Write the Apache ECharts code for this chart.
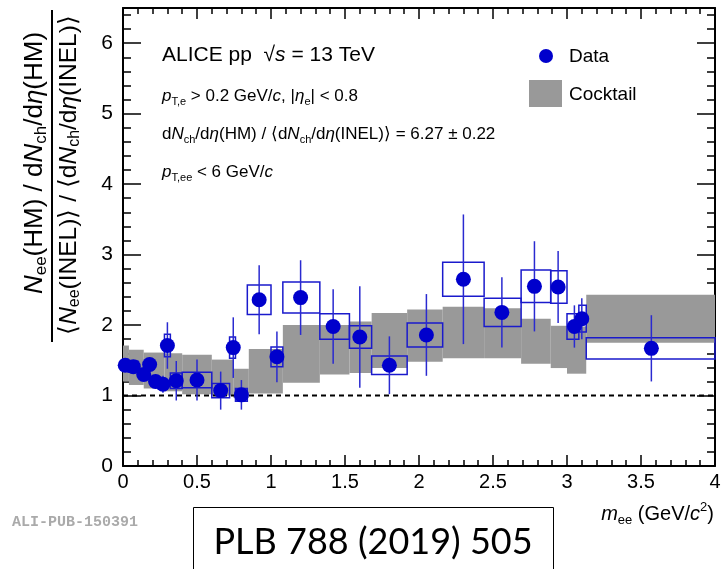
<!DOCTYPE html>
<html>
<head>
<meta charset="utf-8">
<script src="https://cdn.jsdelivr.net/npm/echarts@6/dist/echarts.min.js"></script>
<style>
html,body{margin:0;padding:0;background:#fff;}
#chart{width:726px;height:569px;}
</style>
</head>
<body>
<div id="chart"></div>
<script>
// ---- Data ----
const massCenter = [0.015,0.07,0.14,0.18,0.22,0.27,0.30,0.36,0.50,0.66,0.745,0.80,0.92,1.04,1.20,1.42,1.60,1.80,2.05,2.30,2.56,2.78,2.94,3.05,3.10,3.57];
const ratioValue = [1.43,1.41,1.30,1.44,1.20,1.16,1.71,1.21,1.22,1.07,1.68,1.01,2.36,1.55,2.39,1.98,1.83,1.43,1.86,2.65,2.18,2.55,2.54,1.98,2.09,1.67];
const statErr    = [0.05,0.06,0.08,0.10,0.10,0.12,0.33,0.28,0.29,0.27,0.43,0.21,0.49,0.36,0.53,0.53,0.72,0.41,0.58,0.92,0.50,0.64,0.51,0.30,0.29,0.47];
const systErr    = [0.08,0.08,0.08,0.08,0.08,0.07,0.16,0.11,0.11,0.10,0.15,0.09,0.21,0.14,0.22,0.18,0.16,0.13,0.17,0.24,0.20,0.23,0.23,0.18,0.19,0.15];
const binLow     = [0.00,0.035,0.12,0.16,0.20,0.24,0.28,0.32,0.40,0.60,0.72,0.76,0.84,1.00,1.08,1.33,1.53,1.68,1.92,2.16,2.44,2.69,2.89,3.00,3.08,3.13];
const binHigh    = [0.035,0.10,0.16,0.20,0.24,0.28,0.32,0.40,0.60,0.72,0.76,0.84,1.00,1.08,1.33,1.53,1.68,1.92,2.16,2.44,2.69,2.89,3.00,3.08,3.13,4.00];

// Cocktail band (step-wise)
const cocktailEdgeLow  = [0.00,0.04,0.14,0.28,0.40,0.60,0.745,0.85,1.08,1.33,1.53,1.68,1.92,2.16,2.44,2.69,2.89,3.00,3.13];
const cocktailEdgeHigh = [0.04,0.14,0.28,0.40,0.60,0.745,0.85,1.08,1.33,1.53,1.68,1.92,2.16,2.44,2.69,2.89,3.00,3.13,4.00];
const cocktailLower    = [1.20,1.15,1.10,1.06,1.02,1.00,0.97,1.03,1.18,1.30,1.32,1.39,1.48,1.53,1.53,1.45,1.39,1.31,1.75];
const cocktailUpper    = [1.71,1.65,1.61,1.60,1.58,1.51,1.38,1.66,2.00,2.00,2.05,2.17,2.22,2.26,2.24,2.09,1.99,1.98,2.43];

const xTicksMajor = 0.5, xTicksMinor = 0.1, xMin = 0, xMax = 4;
const yTicksMajor = 1, yTicksMinor = 0.2, yMin = 0, yMax = 6.5;
const refLineY = 1;

// ---- Build series data ----
const pts = massCenter.map((x,i)=>[x, ratioValue[i]]);
const errData = massCenter.map((x,i)=>[x, ratioValue[i]-statErr[i], ratioValue[i]+statErr[i]]);
const boxData = massCenter.map((x,i)=>[binLow[i], binHigh[i], ratioValue[i]-systErr[i], ratioValue[i]+systErr[i]]);
const bandData = cocktailLower.map((v,i)=>[cocktailEdgeLow[i], cocktailEdgeHigh[i], v, cocktailUpper[i]]);

const BLUE = '#0000cc';
const FONT = '"Liberation Sans", Arial, Helvetica, sans-serif';

const chart = echarts.init(document.getElementById('chart'), null, {renderer:'canvas'});

function axisX(pos, interval, len, showLabel, showLine){
  return {
    type:'value', position:pos, min:xMin, max:xMax, interval:interval,
    axisLine:{show:showLine, onZero:false, lineStyle:{color:'#000', width:2}},
    axisTick:{show:true, inside:true, length:len, lineStyle:{color:'#000', width:1.5}},
    axisLabel:{show:showLabel, color:'#000', fontSize:20, fontFamily:FONT, margin:6,
      formatter:v=>String(v)},
    splitLine:{show:false}
  };
}
function axisY(pos, interval, len, showLabel, showLine){
  return {
    type:'value', position:pos, min:yMin, max:yMax, interval:interval,
    axisLine:{show:showLine, onZero:false, lineStyle:{color:'#000', width:2}},
    axisTick:{show:true, inside:true, length:len, lineStyle:{color:'#000', width:1.5}},
    axisLabel:{show:showLabel, color:'#000', fontSize:21, fontFamily:FONT, margin:10, showMaxLabel:false,
      formatter:v=>String(v)},
    splitLine:{show:false}
  };
}

const option = {
  animation:false,
  backgroundColor:'#fff',
  grid:{left:123, top:8, right:11, bottom:103, containLabel:false},
  xAxis:[
    axisX('bottom', xTicksMajor, 11, true, true),
    axisX('bottom', xTicksMinor, 6, false, false),
    axisX('top', xTicksMajor, 11, false, true),
    axisX('top', xTicksMinor, 6, false, false)
  ],
  yAxis:[
    axisY('left', yTicksMajor, 18, true, true),
    axisY('left', yTicksMinor, 8, false, false),
    axisY('right', yTicksMajor, 18, false, true),
    axisY('right', yTicksMinor, 8, false, false)
  ],
  series:[
    { // cocktail band
      type:'custom', xAxisIndex:0, yAxisIndex:0, z:1,
      data:bandData,
      encode:{x:[0,1], y:[2,3]},
      renderItem:(params, api)=>{
        const p0 = api.coord([api.value(0), api.value(3)]);
        const p1 = api.coord([api.value(1), api.value(2)]);
        return {type:'rect', shape:{x:p0[0], y:p0[1], width:p1[0]-p0[0], height:p1[1]-p0[1]},
          style:{fill:'#999999'}};
      }
    },
    { // reference dashed line
      type:'line', xAxisIndex:0, yAxisIndex:0, z:2,
      data:[[xMin, refLineY],[xMax, refLineY]],
      symbol:'none', lineStyle:{color:'#000', width:2, type:[5,4]}
    },
    { // systematic boxes
      type:'custom', xAxisIndex:0, yAxisIndex:0, z:3,
      data:boxData,
      encode:{x:[0,1], y:[2,3]},
      renderItem:(params, api)=>{
        const p0 = api.coord([api.value(0), api.value(3)]);
        const p1 = api.coord([api.value(1), api.value(2)]);
        return {type:'rect', shape:{x:p0[0], y:p0[1], width:p1[0]-p0[0], height:p1[1]-p0[1]},
          style:{fill:'none', stroke:'#1a1acc', lineWidth:1.5}};
      }
    },
    { // statistical error bars
      type:'custom', xAxisIndex:0, yAxisIndex:0, z:4,
      data:errData,
      encode:{x:0, y:[1,2]},
      renderItem:(params, api)=>{
        const p0 = api.coord([api.value(0), api.value(1)]);
        const p1 = api.coord([api.value(0), api.value(2)]);
        return {type:'line', shape:{x1:p0[0], y1:p0[1], x2:p1[0], y2:p1[1]},
          style:{stroke:'#2a2ad0', lineWidth:1.5}};
      }
    },
    { // data points
      type:'scatter', xAxisIndex:0, yAxisIndex:0, z:5,
      data:pts, symbol:'circle', symbolSize:15,
      itemStyle:{color:BLUE, opacity:1}
    }
  ],
  graphic:[
    // Y-axis title (fraction), rotated
    {
      type:'group', x:52, y:176, rotation:Math.PI/2,
      children:[
        {type:'text', x:13, y:-17, style:{
          text:'{i|N}{s|ee}{t|(HM) / d}{i|N}{s|ch}{t|/d}{i|η}{t|(HM)}',
          textAlign:'center', textVerticalAlign:'middle',
          rich:{
            t:{fontSize:26, fontFamily:FONT, color:'#000', lineHeight:30, verticalAlign:'middle'},
            i:{fontSize:26, fontFamily:FONT, fontStyle:'italic', color:'#000', lineHeight:30, verticalAlign:'middle'},
            s:{fontSize:17, fontFamily:FONT, color:'#000', lineHeight:22, verticalAlign:'bottom'}
          }}},
        {type:'rect', shape:{x:-166, y:-1, width:332, height:2}, style:{fill:'#000'}},
        {type:'text', x:1, y:17, style:{
          text:'{t|⟨}{i|N}{s|ee}{t|(INEL)⟩ / ⟨d}{i|N}{s|ch}{t|/d}{i|η}{t|(INEL)⟩}',
          textAlign:'center', textVerticalAlign:'middle',
          rich:{
            t:{fontSize:24.5, fontFamily:FONT, color:'#000', lineHeight:28, verticalAlign:'middle'},
            i:{fontSize:24.5, fontFamily:FONT, fontStyle:'italic', color:'#000', lineHeight:28, verticalAlign:'middle'},
            s:{fontSize:16, fontFamily:FONT, color:'#000', lineHeight:20, verticalAlign:'bottom'}
          }}}
      ]
    },
    // ALICE label
    {type:'text', x:162, y:55, style:{
      text:'{t|ALICE pp  √}{i|s}{t| = 13 TeV}', textVerticalAlign:'middle',
      rich:{t:{fontSize:21, fontFamily:FONT, color:'#000'}, i:{fontSize:21, fontFamily:FONT, fontStyle:'italic', color:'#000'}}}},
    {type:'text', x:162, y:96, style:{
      text:'{i|p}{s|T,e}{t| > 0.2 GeV/}{i|c}{t|, |}{i|η}{s|e}{t|| < 0.8}', textVerticalAlign:'middle',
      rich:{
        t:{fontSize:17, fontFamily:FONT, color:'#000', lineHeight:22, verticalAlign:'middle'},
        i:{fontSize:17, fontFamily:FONT, fontStyle:'italic', color:'#000', lineHeight:22, verticalAlign:'middle'},
        s:{fontSize:11, fontFamily:FONT, color:'#000', lineHeight:14, verticalAlign:'bottom'}}}},
    {type:'text', x:162, y:134, style:{
      text:'{t|d}{i|N}{s|ch}{t|/d}{i|η}{t|(HM) / ⟨d}{i|N}{s|ch}{t|/d}{i|η}{t|(INEL)⟩ = 6.27 ± 0.22}', textVerticalAlign:'middle',
      rich:{
        t:{fontSize:17, fontFamily:FONT, color:'#000', lineHeight:22, verticalAlign:'middle'},
        i:{fontSize:17, fontFamily:FONT, fontStyle:'italic', color:'#000', lineHeight:22, verticalAlign:'middle'},
        s:{fontSize:11, fontFamily:FONT, color:'#000', lineHeight:14, verticalAlign:'bottom'}}}},
    {type:'text', x:162, y:172, style:{
      text:'{i|p}{s|T,ee}{t| < 6 GeV/}{i|c}', textVerticalAlign:'middle',
      rich:{
        t:{fontSize:17, fontFamily:FONT, color:'#000', lineHeight:22, verticalAlign:'middle'},
        i:{fontSize:17, fontFamily:FONT, fontStyle:'italic', color:'#000', lineHeight:22, verticalAlign:'middle'},
        s:{fontSize:11, fontFamily:FONT, color:'#000', lineHeight:14, verticalAlign:'bottom'}}}},
    // Legend
    {type:'circle', shape:{cx:546, cy:56, r:7}, style:{fill:BLUE}},
    {type:'text', x:569, y:57, style:{text:'Data', fontSize:19, fontFamily:FONT, fill:'#000', textVerticalAlign:'middle'}},
    {type:'rect', shape:{x:529, y:80, width:33, height:27}, style:{fill:'#999999'}},
    {type:'text', x:569, y:95, style:{text:'Cocktail', fontSize:19, fontFamily:FONT, fill:'#000', textVerticalAlign:'middle'}},
    // X-axis title
    {type:'text', x:714, y:514, style:{
      text:'{i|m}{s|ee}{t| (GeV/}{i|c}{p|2}{t|)}', textAlign:'right', textVerticalAlign:'middle',
      rich:{
        t:{fontSize:20, fontFamily:FONT, color:'#000', lineHeight:26, verticalAlign:'middle'},
        i:{fontSize:20, fontFamily:FONT, fontStyle:'italic', color:'#000', lineHeight:26, verticalAlign:'middle'},
        s:{fontSize:13, fontFamily:FONT, color:'#000', lineHeight:18, verticalAlign:'bottom'},
        p:{fontSize:13, fontFamily:FONT, color:'#000', lineHeight:18, verticalAlign:'top'}}}},
    // ALI-PUB id
    {type:'text', x:12, y:522, style:{text:'ALI-PUB-150391', fontSize:15, fontWeight:'bold', fontFamily:'"Liberation Mono", "DejaVu Sans Mono", monospace', fill:'#aaaaaa', textVerticalAlign:'middle'}},
    // Reference box
    {type:'rect', shape:{x:193.5, y:507.5, width:360, height:70}, style:{fill:'#fff', stroke:'#000', lineWidth:1}},
    {type:'text', x:373, y:542, style:{text:'PLB 788 (2019) 505', fontSize:36, fontFamily:'Lato, "Open Sans", sans-serif', fill:'#000', textAlign:'center', textVerticalAlign:'middle'}}
  ]
};
chart.setOption(option);
</script>
</body>
</html>
